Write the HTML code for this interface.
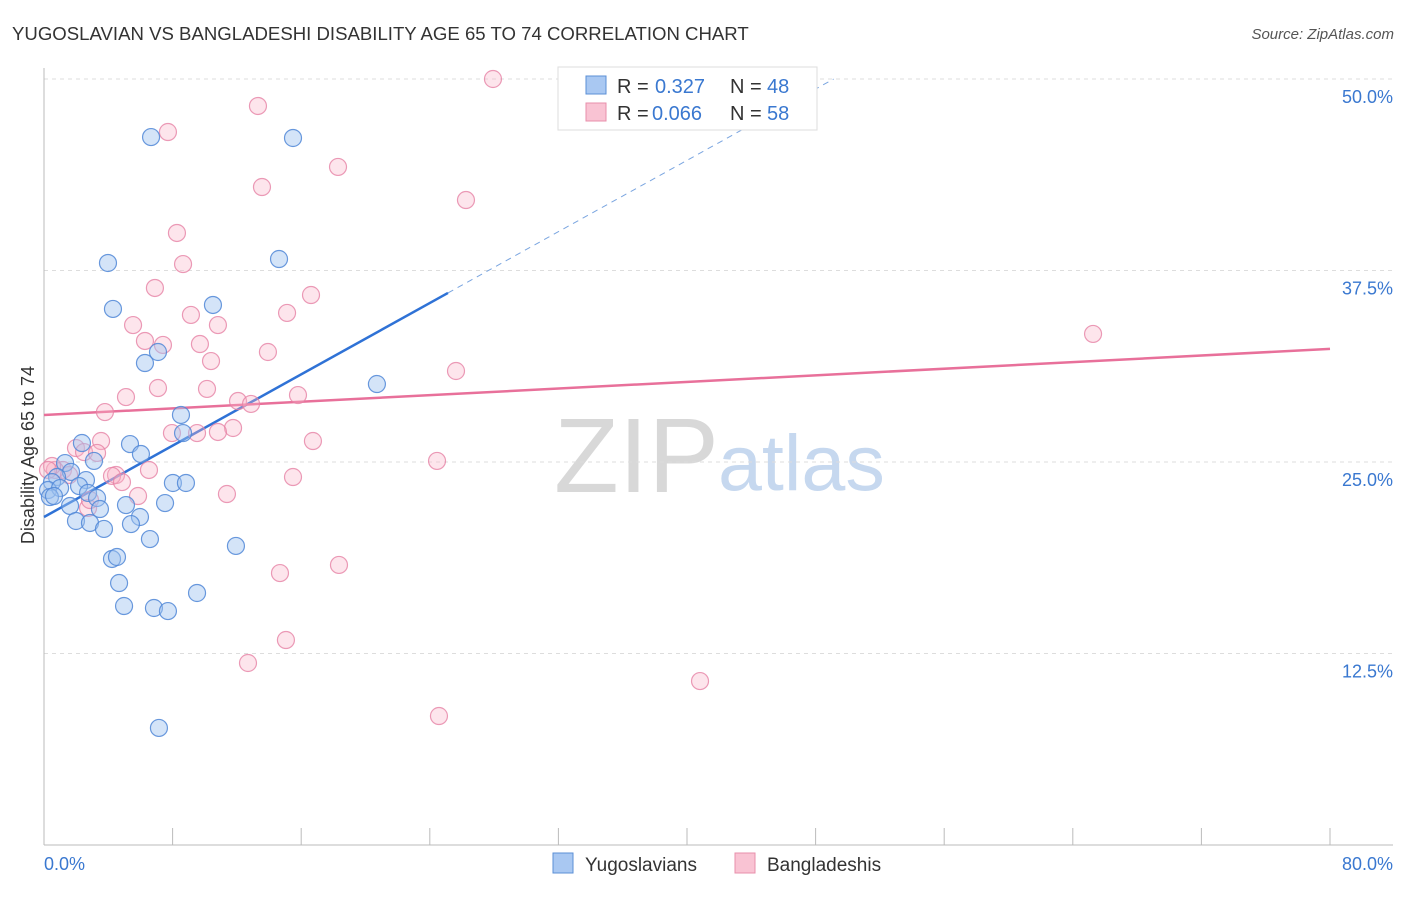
<!DOCTYPE html>
<html><head><meta charset="utf-8"><style>
body{margin:0;background:#fff;font-family:"Liberation Sans",sans-serif}
svg text{font-family:"Liberation Sans",sans-serif}
</style></head><body>
<svg width="1406" height="892">
<text x="12" y="40" font-size="18.6" fill="#333">YUGOSLAVIAN VS BANGLADESHI DISABILITY AGE 65 TO 74 CORRELATION CHART</text>
<text x="1394" y="39" font-size="15" fill="#555" font-style="italic" text-anchor="end">Source: ZipAtlas.com</text>
<g><text x="554" y="492" font-size="106" fill="#d8d8d8" font-family="Liberation Serif">ZIP</text><text x="718" y="490" font-size="79" fill="#c6d8ef">atlas</text></g>
<g id="grid"></g><g id="axes"></g><g id="trend"></g><g id="pts"></g>
<text transform="translate(34,455) rotate(-90)" font-size="18" fill="#333" text-anchor="middle">Disability Age 65 to 74</text>
<g>
<rect x="558" y="67" width="259" height="63" fill="#fff" stroke="#ddd"/>
<rect x="586" y="76" width="20" height="18" fill="#a9c8f2" stroke="#5b8fd6"/>
<text x="617" y="93" font-size="20" fill="#333">R =</text><text x="655" y="93" font-size="20" fill="#3a78d0">0.327</text>
<text x="730" y="93" font-size="20" fill="#333">N =</text><text x="767" y="93" font-size="20" fill="#3a78d0">48</text>
<rect x="586" y="103" width="20" height="18" fill="#f9c3d3" stroke="#e88fab"/>
<text x="617" y="120" font-size="20" fill="#333">R =</text><text x="652" y="120" font-size="20" fill="#3a78d0">0.066</text>
<text x="730" y="120" font-size="20" fill="#333">N =</text><text x="767" y="120" font-size="20" fill="#3a78d0">58</text>
</g>
<g>
<rect x="553" y="853" width="20" height="20" fill="#a9c8f2" stroke="#5b8fd6"/>
<text x="585" y="871" font-size="19" fill="#333">Yugoslavians</text>
<rect x="735" y="853" width="20" height="20" fill="#f9c3d3" stroke="#e88fab"/>
<text x="767" y="871" font-size="19" fill="#333">Bangladeshis</text>
</g>
</svg>
<script>
const blueX=[6.66,15.49,3.98,14.62,4.29,10.51,7.09,6.28,20.71,8.52,8.65,2.36,5.35,6.03,3.11,1.31,1.68,0.81,2.61,0.50,2.18,0.25,1.00,2.74,3.30,0.37,0.62,3.48,1.62,5.10,7.53,5.97,1.99,2.86,5.41,3.73,6.59,11.94,4.23,4.54,4.67,9.52,4.98,6.84,7.71,7.15,8.02,8.83];
const blueY=[46.21,46.15,37.99,38.25,34.99,35.25,32.18,31.46,30.09,28.07,26.89,26.24,26.17,25.52,25.07,24.93,24.35,24.02,23.82,23.69,23.43,23.17,23.30,22.98,22.65,22.71,22.78,21.93,22.13,22.19,22.32,21.41,21.15,21.02,20.95,20.63,19.97,19.52,18.67,18.80,17.10,16.45,15.60,15.47,15.27,7.64,23.63,23.63];
const pinkX=[27.93,13.31,7.71,18.29,13.56,26.25,8.27,8.65,16.61,6.90,15.12,9.14,10.82,5.54,6.28,9.70,7.40,13.93,10.39,25.63,7.09,10.14,5.10,3.79,12.07,12.88,15.80,11.76,10.82,7.96,9.52,3.55,1.99,2.49,3.30,16.73,24.45,1.18,0.68,4.48,4.23,6.53,4.85,15.49,11.38,5.85,2.74,14.68,18.35,15.05,12.69,40.81,24.57,65.26,0.5,1.56,0.25,2.86];
const pinkY=[50.0,48.24,46.54,44.26,42.95,42.10,39.95,37.92,35.90,36.36,34.73,34.60,33.94,33.94,32.90,32.70,32.64,32.18,31.59,30.94,29.83,29.77,29.24,28.26,28.98,28.79,29.37,27.22,26.96,26.89,26.89,26.37,25.91,25.65,25.59,26.37,25.07,24.48,24.48,24.15,24.09,24.48,23.69,24.02,22.91,22.78,22.0,17.75,18.28,13.38,11.88,10.70,8.42,33.36,24.74,24.15,24.48,22.52];
const yTicks=[12.5,25.0,37.5,50.0];
const blueTrend=[21.41,0.582];
const pinkTrend=[28.07,0.0539];
const NS='http://www.w3.org/2000/svg';
const sx=v=>44+v/80*1286, sy=v=>845-v/50*766;
function mk(t,a,p){const e=document.createElementNS(NS,t);for(const k in a)e.setAttribute(k,a[k]);p.appendChild(e);return e;}
const grid=document.getElementById('grid'),axes=document.getElementById('axes'),tr=document.getElementById('trend'),pts=document.getElementById('pts');
yTicks.forEach(t=>{
 const l=mk('line',{x1:44,x2:1393,y1:sy(t),y2:sy(t),stroke:'#ddd','stroke-dasharray':'4,4'},grid);
 
 
 const tx=mk('text',{x:1393,y:sy(t)+24,'font-size':18,fill:'#3a78d0','text-anchor':'end'},grid);
 tx.textContent=t.toFixed(1)+'%';
 
 
});
mk('line',{x1:44,x2:44,y1:68,y2:845,stroke:'#bbb'},axes);
mk('line',{x1:44,x2:1393,y1:845,y2:845,stroke:'#bbb'},axes);
for(let i=0;i<=10;i++){const x=sx(i*8);mk('line',{x1:x,x2:x,y1:828,y2:845,stroke:'#bbb'},axes);}
const x0=mk('text',{x:44,y:870,'font-size':18,fill:'#3a78d0'},axes);x0.textContent='0.0%';


const x1=mk('text',{x:1393,y:870,'font-size':18,fill:'#3a78d0','text-anchor':'end'},axes);x1.textContent='80.0%';


function pt(xs,ys,fill,stroke,name){xs.forEach((v,i)=>{const c=mk('circle',{cx:sx(v),cy:sy(ys[i]),r:8.5,fill:fill,stroke:stroke,'stroke-width':1.2},pts);
 
 });}
pt(pinkX,pinkY,'rgba(248,180,200,0.35)','rgba(230,130,165,0.8)','bangladeshi-point');
pt(blueX,blueY,'rgba(160,196,240,0.45)','rgba(80,135,215,0.85)','yugoslavian-point');
const bEnd=25.13, bTop=(50-blueTrend[0])/blueTrend[1];
const bl=mk('line',{x1:sx(0),y1:sy(blueTrend[0]),x2:sx(bEnd),y2:sy(blueTrend[0]+blueTrend[1]*bEnd),stroke:'#2f72d6','stroke-width':2.5},tr);


const bd=mk('line',{x1:sx(bEnd),y1:sy(blueTrend[0]+blueTrend[1]*bEnd),x2:sx(bTop),y2:sy(50),stroke:'#7aa5e0','stroke-width':1,'stroke-dasharray':'6,5'},tr);


const pl=mk('line',{x1:sx(0),y1:sy(pinkTrend[0]),x2:sx(80),y2:sy(pinkTrend[0]+pinkTrend[1]*80),stroke:'#e8709a','stroke-width':2.5},tr);


</script>
</body></html>
